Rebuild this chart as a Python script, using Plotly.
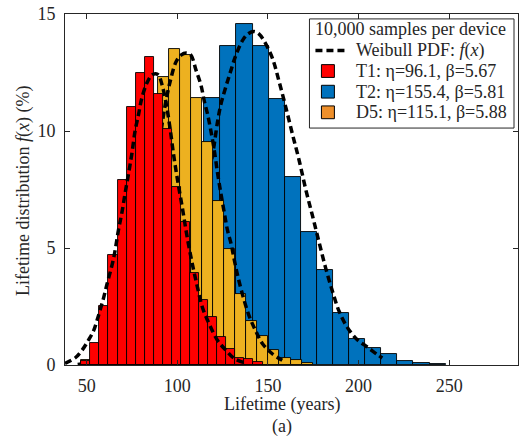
import plotly.graph_objects as go

# ---------------- data ----------------
# Histograms: bin left edge, bin width, bar heights (%)
t1_start, t1_width = 47.0, 5.0
t1_heights = [0.19, 0.96, 2.51, 4.70, 7.89, 11.03, 12.50, 13.18, 11.60, 10.08,
              7.61, 6.10, 3.93, 2.76, 2.06, 1.19, 0.69, 0.28, 0.24, 0.14]

d5_start, d5_width = 46.75, 6.09
d5_heights = [0.20, 0.60, 1.50, 3.00, 5.20, 7.70, 10.30, 12.32, 13.52, 13.25,
              11.40, 9.52, 7.00, 4.95, 3.04, 1.88, 1.25, 0.63, 0.30, 0.22, 0.07]

t2_start, t2_width = 61.6, 8.88
t2_heights = [0.15, 0.60, 1.60, 3.40, 6.00, 9.00, 11.41, 13.65, 14.56, 13.65,
              11.35, 8.05, 5.70, 4.06, 2.21, 1.12, 0.71, 0.48, 0.18, 0.07, 0.05]

# Weibull PDF curves (%)
t1_curve_x = [38.0, 43.7, 47.4, 51.1, 53.8, 55.6, 57.5, 59.3, 61.1, 64.8, 67.6, 69.4,
              71.2, 73.1, 74.9, 76.7, 78.6, 80.4, 83.2, 85.9, 88.0, 89.6, 91.8, 94.0,
              96.0, 98.0, 100.1, 102.9, 105.6, 108.4, 111.2, 113.9, 117.6, 122.2,
              126.8, 131.4, 137.8]
t1_curve_y = [0.07, 0.31, 0.63, 1.08, 1.47, 1.89, 2.38, 2.87, 3.43, 4.55, 5.81, 6.51,
              7.35, 8.19, 9.03, 10.01, 10.71, 11.41, 12.05, 12.39, 12.45, 12.39, 11.90,
              11.10, 10.10, 8.95, 7.91, 6.65, 5.39, 4.27, 3.29, 2.45, 1.75, 1.05,
              0.63, 0.28, 0.08]

d5_curve_x = [45.0, 55.0, 62.0, 68.0, 73.0, 78.0, 82.0, 86.0, 89.0, 92.0, 94.0, 96.5,
              99.3, 102.0, 105.0, 107.5, 110.3, 113.0, 114.9, 116.7, 118.5, 120.4,
              122.2, 124.0, 125.9, 127.7, 129.6, 131.4, 133.2, 136.0, 139.6, 143.3,
              147.0, 152.4, 157.9]
d5_curve_y = [0.02, 0.20, 0.60, 1.30, 2.30, 3.80, 5.30, 7.20, 8.90, 10.50, 11.40, 12.26,
              12.96, 13.24, 13.33, 13.24, 12.60, 11.97, 11.27, 10.71, 10.01, 9.17,
              8.19, 7.35, 6.51, 5.75, 5.20, 4.50, 3.85, 3.00, 2.10, 1.45,
              0.91, 0.48, 0.20]

t2_curve_x = [75.0, 85.0, 92.0, 98.0, 103.0, 108.0, 112.0, 116.0, 119.0, 120.4, 122.2,
              124.0, 126.8, 129.6, 132.3, 136.0, 139.0, 142.4, 145.0, 147.9, 152.5,
              156.2, 159.9, 163.5, 167.2, 170.9, 174.6, 178.2, 181.9, 185.6, 189.2,
              193.8, 199.3, 204.8, 210.3, 213.1]
t2_curve_y = [0.05, 0.30, 0.80, 1.60, 2.80, 4.50, 6.00, 7.60, 8.80, 9.45, 10.40,
              11.13, 11.90, 12.60, 13.24, 13.87, 14.15, 14.25, 14.15, 13.85, 13.10,
              12.10, 11.00, 9.87, 8.75, 7.49, 6.37, 5.25, 4.13, 3.15, 2.31,
              1.61, 1.08, 0.77, 0.45, 0.30]

x_ticks = [50, 100, 150, 200, 250]
y_ticks = [0, 5, 10, 15]
x_range = [38, 288]
y_range = [0, 15]

legend_title = "10,000 samples per device"
curve_label = "Weibull PDF: <i>f</i>(<i>x</i>)"
series_labels = ["T1: η=96.1, β=5.67", "T2: η=155.4, β=5.81", "D5: η=115.1, β=5.88"]
swatch_colors = ["#FF0000", "#0072BD", "#EE8F2A"]

red, blue, yellow = "#FF0000", "#0072BD", "#EDB120"
ink = "#262626"
FONT = "Liberation Serif"

# ---------------- figure ----------------
W, H = 523, 446
L, R, T, B = 65, 4, 8, 81
PW, PH = W - L - R, H - T - B


def px(x):  # pixel -> paper x
    return (x - L) / PW


def py(y):  # pixel -> paper y
    return (H - B - y) / PH


def edges(start, width, n):
    return [start + width * i for i in range(n)]


dash = "7px,4px"
fig = go.Figure()

# layer 1: T2 bars + T2 curve
fig.add_trace(go.Bar(x=edges(t2_start, t2_width, len(t2_heights)), y=t2_heights,
                     width=t2_width, offset=0, marker=dict(color=blue, line=dict(color="black", width=0.9)),
                     showlegend=False, xaxis="x", yaxis="y"))
fig.add_trace(go.Scatter(x=t2_curve_x, y=t2_curve_y, mode="lines", line=dict(color="black", width=3.5, dash=dash, shape="spline"),
                         showlegend=False, xaxis="x", yaxis="y"))
# layer 2: D5 bars + D5 curve
fig.add_trace(go.Bar(x=edges(d5_start, d5_width, len(d5_heights)), y=d5_heights,
                     width=d5_width, offset=0, marker=dict(color=yellow, line=dict(color="black", width=0.9)),
                     showlegend=False, xaxis="x2", yaxis="y2"))
fig.add_trace(go.Scatter(x=d5_curve_x, y=d5_curve_y, mode="lines", line=dict(color="black", width=3.5, dash=dash, shape="spline"),
                         showlegend=False, xaxis="x2", yaxis="y2"))
# layer 3: T1 bars + T1 curve
fig.add_trace(go.Bar(x=edges(t1_start, t1_width, len(t1_heights)), y=t1_heights,
                     width=t1_width, offset=0, marker=dict(color=red, line=dict(color="black", width=0.9)),
                     showlegend=False, xaxis="x3", yaxis="y3"))
fig.add_trace(go.Scatter(x=t1_curve_x, y=t1_curve_y, mode="lines", line=dict(color="black", width=3.5, dash=dash, shape="spline"),
                         showlegend=False, xaxis="x3", yaxis="y3"))

axis_font = dict(family=FONT, size=18, color=ink)
fig.update_layout(
    width=W, height=H, margin=dict(l=L, r=R, t=T, b=B),
    paper_bgcolor="white", plot_bgcolor="white", showlegend=False, bargap=0,
    font=dict(family=FONT, size=18, color=ink),
    xaxis=dict(range=x_range, tickvals=x_ticks, ticks="inside", ticklen=5, tickcolor=ink,
               showline=True, linecolor=ink, linewidth=1, mirror="ticks", showgrid=False,
               zeroline=False, tickfont=axis_font, ticklabelstandoff=4, ticklabeloverflow="allow"),
    yaxis=dict(range=y_range, tickvals=y_ticks, ticks="inside", ticklen=5, tickcolor=ink,
               showline=True, linecolor=ink, linewidth=1, mirror="ticks", showgrid=False,
               zeroline=False, tickfont=axis_font, ticklabelstandoff=5, ticklabeloverflow="allow"),
    xaxis2=dict(range=x_range, overlaying="x", anchor="y2", visible=False),
    yaxis2=dict(range=y_range, overlaying="y", anchor="x2", visible=False),
    xaxis3=dict(range=x_range, overlaying="x", anchor="y3", visible=False),
    yaxis3=dict(range=y_range, overlaying="y", anchor="x3", visible=False),
)

# axis titles and caption
ann = [
    dict(text="Lifetime (years)", x=px(282), y=py(405), xanchor="center", yanchor="middle"),
    dict(text="(a)", x=px(282), y=py(428), xanchor="center", yanchor="middle"),
    dict(text="Lifetime distribution <i>f</i>(<i>x</i>) (%)", x=px(24), y=py(188),
         xanchor="center", yanchor="middle", textangle=-90),
]

# legend (box, title, dashed-line sample, colour swatches)
shapes = [dict(type="rect", xref="paper", yref="paper", x0=px(310), x1=px(515), y0=py(124), y1=py(13),
               fillcolor="white", line=dict(color=ink, width=1), layer="above")]
ann.append(dict(text=legend_title, x=px(314), y=py(23.5), xanchor="left", yanchor="middle"))
row_y = [45, 66, 87, 108]
shapes.append(dict(type="line", xref="paper", yref="paper", x0=px(316), x1=px(347), y0=py(row_y[0]), y1=py(row_y[0]),
                   line=dict(color="black", width=3.5, dash=dash), layer="above"))
ann.append(dict(text=curve_label, x=px(355), y=py(row_y[0]), xanchor="left", yanchor="middle"))
for lab, col, yy in zip(series_labels, swatch_colors, row_y[1:]):
    shapes.append(dict(type="rect", xref="paper", yref="paper", x0=px(322), x1=px(335),
                       y0=py(yy + 6.5), y1=py(yy - 6.5), fillcolor=col,
                       line=dict(color="black", width=1), layer="above"))
    ann.append(dict(text=lab, x=px(355), y=py(yy), xanchor="left", yanchor="middle"))

for a in ann:
    a.update(xref="paper", yref="paper", showarrow=False, font=dict(family=FONT, size=18, color=ink))
fig.update_layout(annotations=ann, shapes=shapes)

fig.write_html("out.html")
